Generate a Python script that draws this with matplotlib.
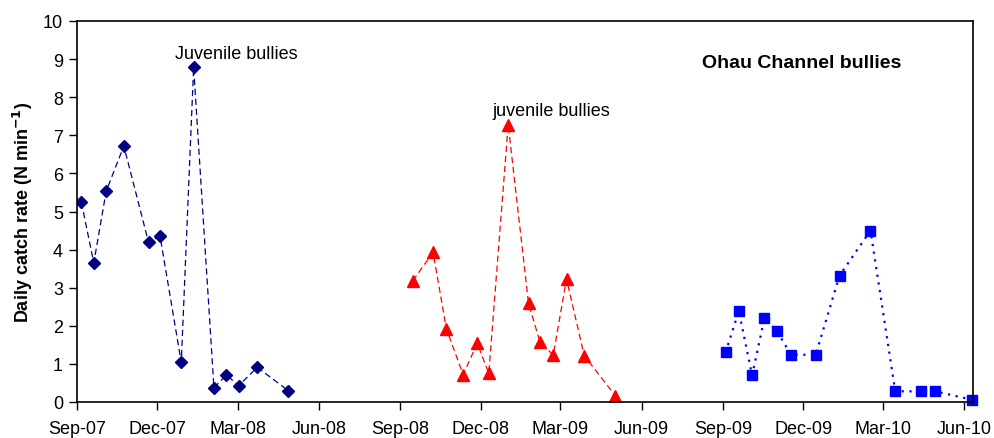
import matplotlib
matplotlib.use("Agg")
import matplotlib.pyplot as plt
import numpy as np
import pandas as pd

plt.rcParams['font.family'] = ['Liberation Sans', 'DejaVu Sans']

# Ohau Channel bullies - daily catch rate (N min-1)
dates_0708 = ["2007-09-06", "2007-09-20", "2007-10-04", "2007-10-24", "2007-11-21",
              "2007-12-04", "2007-12-28", "2008-01-11", "2008-02-03", "2008-02-17",
              "2008-03-02", "2008-03-23", "2008-04-27"]
catch_0708 = [5.24, 3.65, 5.53, 6.72, 4.19, 4.35, 1.04, 8.78, 0.37, 0.71, 0.43, 0.91, 0.30]

dates_0809 = ["2008-09-15", "2008-10-08", "2008-10-23", "2008-11-11", "2008-11-27",
              "2008-12-10", "2009-01-01", "2009-01-24", "2009-02-06", "2009-02-21",
              "2009-03-08", "2009-03-28", "2009-05-02"]
catch_0809 = [3.18, 3.93, 1.92, 0.72, 1.54, 0.75, 7.28, 2.59, 1.57, 1.23, 3.23, 1.22, 0.17]

dates_0910 = ["2009-09-04", "2009-09-19", "2009-10-04", "2009-10-18", "2009-11-01",
              "2009-11-17", "2009-12-15", "2010-01-11", "2010-02-15", "2010-03-15",
              "2010-04-13", "2010-04-29", "2010-06-10"]
catch_0910 = [1.30, 2.39, 0.70, 2.20, 1.87, 1.24, 1.24, 3.32, 4.50, 0.28, 0.28, 0.28, 0.06]

tick_dates = pd.date_range("2007-09-01", "2010-06-01", freq="3MS")
tick_labels = [d.strftime("%b-%y") for d in tick_dates]

fig = plt.figure(figsize=(9.95, 4.39), dpi=100)
ax = fig.add_axes([77 / 995, 1 - 403 / 439, (973 - 77) / 995, (403 - 22) / 439])

ax.plot(pd.to_datetime(dates_0708), catch_0708, color='#000080', ls=(0, (5, 3)), lw=0.9,
        marker='D', ms=6.5, mfc='#000080', mec='#000080')
ax.plot(pd.to_datetime(dates_0809), catch_0809, color='#ff0000', ls=(0, (5, 3)), lw=0.9,
        marker='^', ms=8.5, mfc='#ff0000', mec='#ff0000')
ax.plot(pd.to_datetime(dates_0910), catch_0910, color='#0000ff', ls=(0, (1, 2.5)), lw=1.6,
        marker='s', ms=7, mfc='#0000ff', mec='#0000ff', clip_on=False)

ax.set_xlim(pd.Timestamp("2007-09-01"), pd.Timestamp("2010-06-11"))
ax.set_ylim(0, 10)
ax.set_yticks(np.arange(0, 11, 1))
ax.set_xticks(tick_dates)
ax.set_xticklabels(tick_labels)
ax.tick_params(axis='both', direction='out', length=6, width=1, labelsize=13, pad=4)
ax.tick_params(axis='x', pad=7)

for s in ax.spines.values():
    s.set_linewidth(1.2)

ax.set_ylabel(r'Daily catch rate (N min$^{\mathbf{-1}}$)', fontsize=13, fontweight='bold', labelpad=6)

ax.text(pd.Timestamp("2008-02-28"), 9.16, "Juvenile bullies", fontsize=13, ha='center', va='center')
ax.text(pd.Timestamp("2009-02-19"), 7.64, "juvenile bullies", fontsize=13, ha='center', va='center')
ax.text(pd.Timestamp("2009-11-29"), 8.9, "Ohau Channel bullies", fontsize=14, fontweight='bold',
        ha='center', va='center')

fig.savefig("out.png", dpi=100)
